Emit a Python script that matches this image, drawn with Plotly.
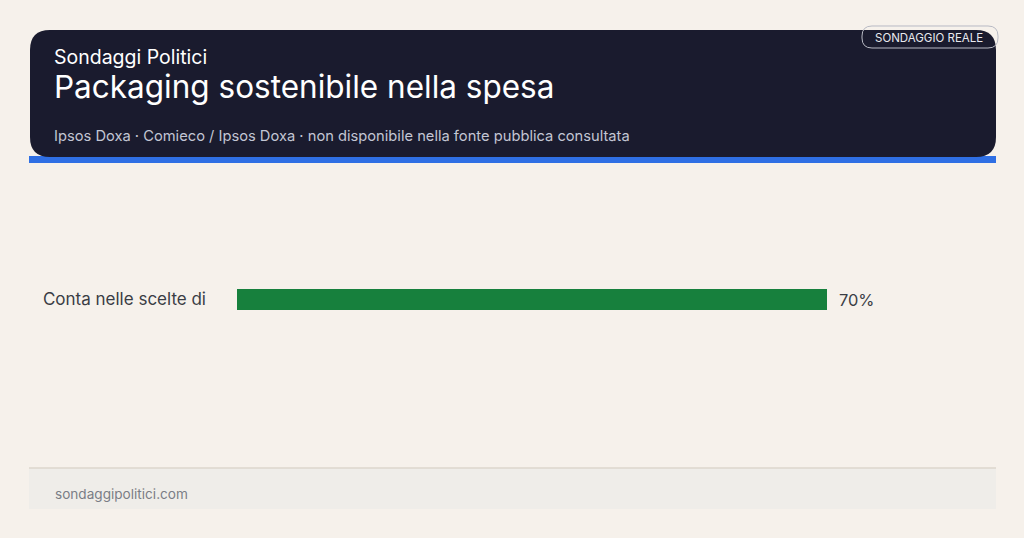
import plotly.graph_objects as go

categories = ["Conta nelle scelte di"]
values = [70]
value_labels = ["70%"]

W, H = 1024, 538
ML, MR, MT, MB = 237, 79, 190, 129
PW, PH = W - ML - MR, H - MT - MB

def px(x):
    return (x - ML) / PW

def py(y):
    return 1 - (y - MT) / PH

def rounded_path(x0, y0, x1, y1, r):
    def P(x, y):
        return f"{px(x):.5f},{py(y):.5f}"
    d = f"M {P(x0 + r, y0)} L {P(x1 - r, y0)} Q {P(x1, y0)} {P(x1, y0 + r)} "
    d += f"L {P(x1, y1 - r)} Q {P(x1, y1)} {P(x1 - r, y1)} "
    d += f"L {P(x0 + r, y1)} Q {P(x0, y1)} {P(x0, y1 - r)} "
    d += f"L {P(x0, y0 + r)} Q {P(x0, y0)} {P(x0 + r, y0)} Z"
    return d

bg = "#f6f1eb"
fig = go.Figure()
fig.add_trace(go.Bar(
    x=values, y=categories, orientation="h",
    marker=dict(color="#17803d", line=dict(width=0)),
    width=0.096, hoverinfo="skip",
))

shapes = [
    dict(type="rect", xref="paper", yref="paper", x0=px(29), x1=px(996), y0=py(163), y1=py(156),
         fillcolor="#2f6fe4", line=dict(width=0), layer="below"),
    dict(type="path", xref="paper", yref="paper", path=rounded_path(30, 30, 996, 157, 20),
         fillcolor="#1a1b2e", line=dict(width=0), layer="below"),
    dict(type="path", xref="paper", yref="paper", path=rounded_path(862, 26, 998, 48, 10),
         fillcolor="rgba(0,0,0,0)", line=dict(color="#b8bac4", width=1)),
    dict(type="rect", xref="paper", yref="paper", x0=px(29), x1=px(996), y0=py(509), y1=py(468),
         fillcolor="#efede9", line=dict(width=0), layer="below"),
    dict(type="line", xref="paper", yref="paper", x0=px(29), x1=px(996), y0=py(468), y1=py(468),
         line=dict(color="#ddd6cd", width=1.5), layer="below"),
]

ann = [
    dict(text="Sondaggi Politici", x=px(52), y=py(57), xanchor="left", yanchor="middle",
         font=dict(family="Inter", size=19.5, color="#ffffff")),
    dict(text="Packaging sostenibile nella spesa", x=px(52), y=py(86), xanchor="left", yanchor="middle",
         font=dict(family="Inter", size=31.5, color="#ffffff")),
    dict(text="Ipsos Doxa · Comieco / Ipsos Doxa · non disponibile nella fonte pubblica consultata",
         x=px(52), y=py(136), xanchor="left", yanchor="middle",
         font=dict(family="Inter", size=14.7, color="#c3c6d4")),
    dict(text="SONDAGGIO REALE", x=px(929), y=py(38), xanchor="center", yanchor="middle",
         font=dict(family="Inter", size=11.5, color="#e8e9ee")),
    dict(text="sondaggipolitici.com", x=px(53), y=py(494), xanchor="left", yanchor="middle",
         font=dict(family="Inter", size=13.6, color="#7a7d85")),
]
for a in ann:
    a.update(xref="paper", yref="paper", showarrow=False)

for cat, v, lab in zip(categories, values, value_labels):
    ann.append(dict(text=lab, x=v, y=cat, xref="x", yref="y", xanchor="left", yanchor="middle",
                    xshift=10, showarrow=False,
                    font=dict(family="Inter", size=16.4, color="#3a3d45")))

fig.update_layout(
    width=W, height=H,
    margin=dict(l=ML, r=MR, t=MT, b=MB),
    paper_bgcolor=bg, plot_bgcolor=bg,
    shapes=shapes, annotations=ann,
    showlegend=False,
    xaxis=dict(range=[0, 84], visible=False, fixedrange=True),
    yaxis=dict(showgrid=False, zeroline=False, showline=False, ticks="",
               ticklabelstandoff=30,
               tickfont=dict(family="Inter", size=17, color="#3a3d45"), fixedrange=True),
)

fig.write_html("out.html", config={"displayModeBar": False},
               post_script="document.body.style.margin='0';document.body.style.background='#f6f1eb';document.body.style.overflow='hidden';")
